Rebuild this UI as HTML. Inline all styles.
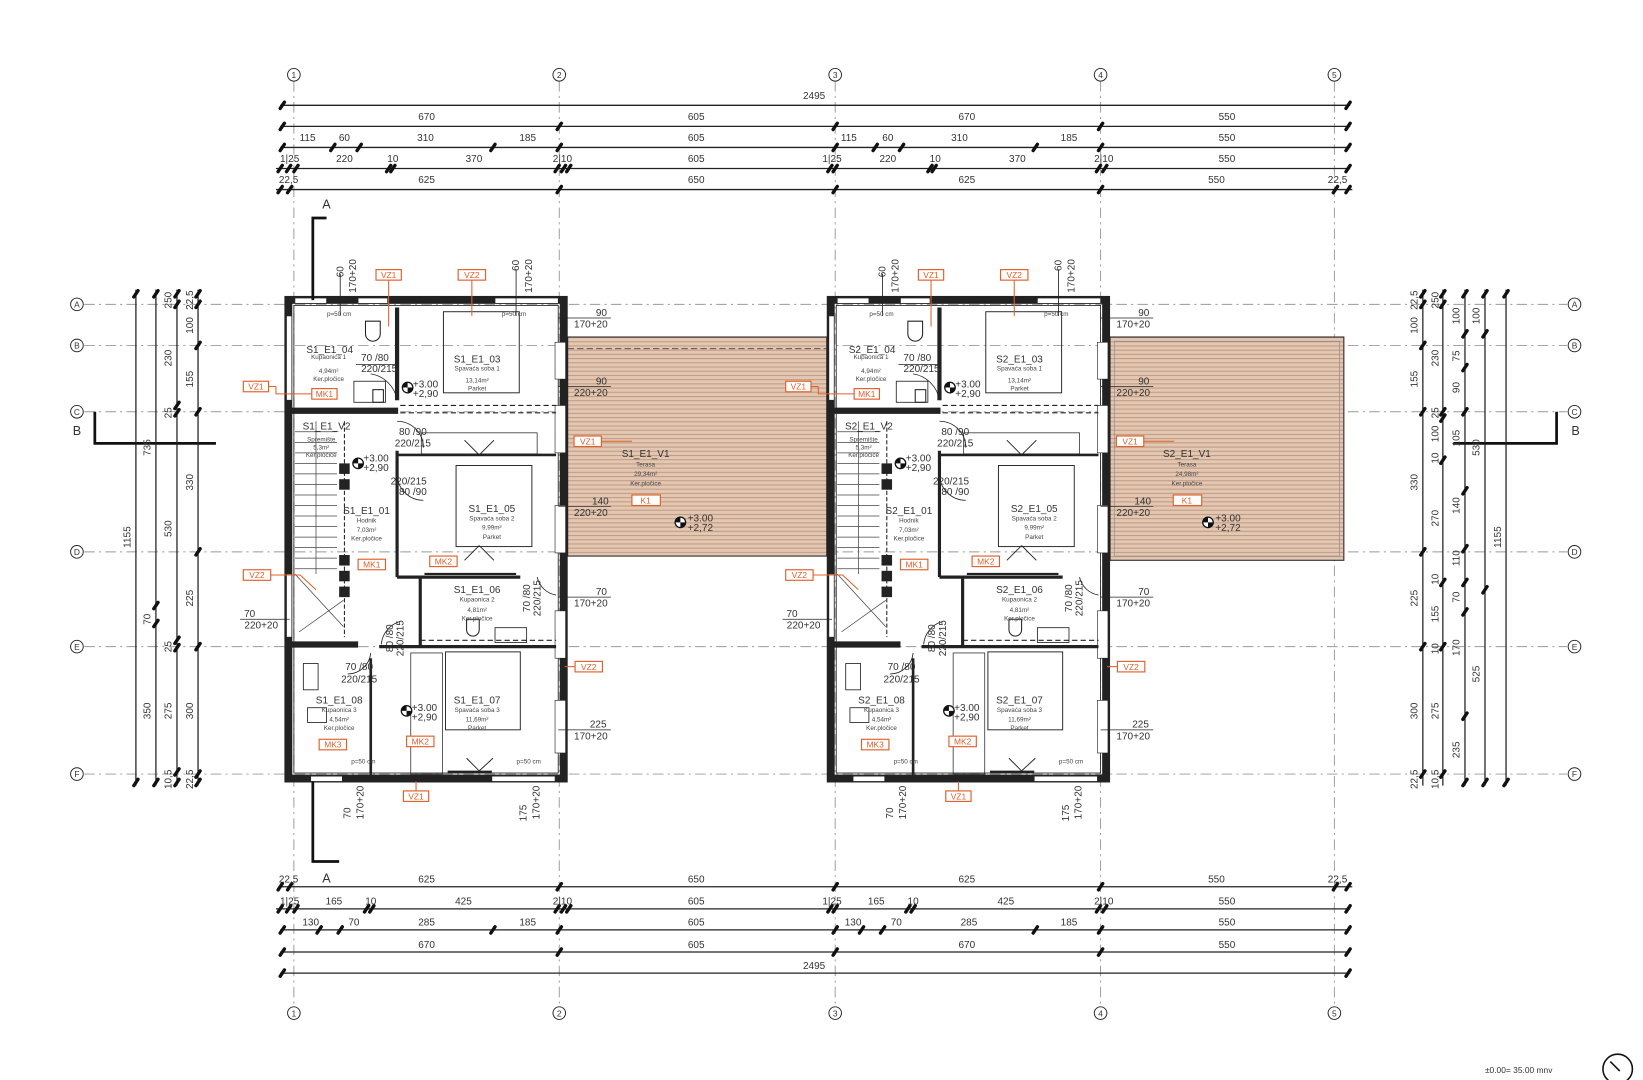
<!DOCTYPE html>
<html><head><meta charset="utf-8"><style>
html,body{margin:0;padding:0;background:#fff;}
svg{display:block;}
text{font-family:"Liberation Sans",sans-serif;fill:#333;}
.d{font-size:9.5px;text-anchor:middle;}
.s{font-size:6px;text-anchor:middle;fill:#444;}
.r{font-size:9.5px;text-anchor:middle;fill:#222;}
.o{font-size:8px;fill:#e0602a;text-anchor:middle;}
.g{stroke:#999;stroke-width:0.9;stroke-dasharray:10 4 2 4;fill:none;}
.dl{stroke:#222;stroke-width:1.2;}
.tk{stroke:#111;stroke-width:3.2;stroke-linecap:round;}
.ob{fill:#fff;stroke:#e0602a;stroke-width:1.1;}
.ol{stroke:#e0602a;stroke-width:1;fill:none;}
.w{stroke:#222;fill:none;}
</style></head><body>
<svg width="1643" height="1080" viewBox="0 0 1560 1025.5" xmlns="http://www.w3.org/2000/svg">
<defs>
<pattern id="hat" width="4" height="4" patternUnits="userSpaceOnUse">
<rect width="4" height="4" fill="#e2c7b3"/><line x1="0" y1="0.5" x2="4" y2="0.5" stroke="#c29a82" stroke-width="1"/>
</pattern>
<marker id="t" viewBox="0 0 10 10" refX="5" refY="5" markerWidth="6" markerHeight="6" orient="auto"><line x1="1" y1="9" x2="9" y2="1" stroke="#111" stroke-width="3"/></marker>
<g id="lev"><circle r="5" fill="#fff" stroke="#111" stroke-width="1.2"/><path d="M-5,0 A5,5 0 0,1 0,-5 L0,0Z M5,0 A5,5 0 0,1 0,5 L0,0Z" fill="#111"/></g>
<g id="bld">
 <!-- outer walls -->
 <rect x="274" y="285" width="261" height="454" fill="none" stroke="#222" stroke-width="7"/>
 <rect x="270.5" y="281.5" width="268" height="461" fill="none" stroke="#222" stroke-width="1"/>
 <rect x="279" y="290" width="251" height="444" fill="none" stroke="#222" stroke-width="0.8"/>
 <!-- top window gaps -->
 <rect x="280" y="283" width="30" height="5" fill="#fff" stroke="#222" stroke-width="0.6"/>
 <rect x="340" y="283" width="28" height="5" fill="#fff" stroke="#222" stroke-width="0.6"/>
 <rect x="470" y="283" width="60" height="5" fill="#fff" stroke="#222" stroke-width="0.6"/>
 <rect x="295" y="737" width="30" height="5" fill="#fff" stroke="#222" stroke-width="0.6"/>
 <rect x="467" y="737" width="60" height="5" fill="#fff" stroke="#222" stroke-width="0.6"/>
 <rect x="527" y="325" width="10" height="35" fill="#fff" stroke="#222" stroke-width="0.6"/>
 <rect x="527" y="385" width="10" height="45" fill="#fff" stroke="#222" stroke-width="0.6"/>
 <rect x="527" y="480" width="10" height="45" fill="#fff" stroke="#222" stroke-width="0.6"/>
 <rect x="527" y="580" width="10" height="45" fill="#fff" stroke="#222" stroke-width="0.6"/>
 <rect x="527" y="665" width="10" height="50" fill="#fff" stroke="#222" stroke-width="0.6"/>
 <rect x="272" y="545" width="5" height="60" fill="#fff" stroke="#222" stroke-width="0.6"/>
 <rect x="272" y="300" width="5" height="80" fill="#fff" stroke="#222" stroke-width="0.6"/>
 <!-- interior walls -->
 <line x1="277" y1="390" x2="378" y2="390" class="w" stroke-width="6"/>
 <line x1="377" y1="292" x2="377" y2="380" class="w" stroke-width="4"/>
 <line x1="377" y1="428" x2="377" y2="548" class="w" stroke-width="3"/>
 <line x1="377" y1="432" x2="528" y2="432" class="w" stroke-width="2.5"/>
 <line x1="380" y1="385" x2="528" y2="385" class="w" stroke-width="1" stroke-dasharray="5 3"/>
 <line x1="380" y1="392" x2="528" y2="392" class="w" stroke-width="1" stroke-dasharray="5 3"/>
 <line x1="377" y1="548" x2="494" y2="548" class="w" stroke-width="3"/>
 <line x1="399" y1="548" x2="399" y2="614" class="w" stroke-width="3"/>
 <line x1="277" y1="612" x2="340" y2="612" class="w" stroke-width="6"/>
 <line x1="360" y1="614" x2="528" y2="614" class="w" stroke-width="3"/>
 <line x1="399" y1="608" x2="528" y2="608" class="w" stroke-width="1" stroke-dasharray="5 3"/>
 <line x1="352" y1="625" x2="352" y2="736" class="w" stroke-width="2.5"/>
 <line x1="327" y1="400" x2="327" y2="605" class="w" stroke-width="1" stroke-dasharray="4 2"/>
 <!-- column blocks -->
 <rect x="322" y="440" width="10" height="10" fill="#222"/>
 <rect x="322" y="455" width="10" height="10" fill="#222"/>
 <rect x="322" y="527" width="10" height="10" fill="#222"/>
 <rect x="322" y="542" width="10" height="10" fill="#222"/>
 <rect x="322" y="557" width="10" height="10" fill="#222"/>
 <rect x="354" y="370" width="10" height="12" fill="none" stroke="#222"/>
 <!-- stairs -->
 <g stroke="#444" stroke-width="0.7">
  <line x1="280" y1="410" x2="320" y2="410"/><line x1="280" y1="420" x2="320" y2="420"/><line x1="280" y1="430" x2="320" y2="430"/><line x1="280" y1="440" x2="320" y2="440"/><line x1="280" y1="450" x2="320" y2="450"/><line x1="280" y1="460" x2="320" y2="460"/><line x1="280" y1="470" x2="320" y2="470"/><line x1="280" y1="480" x2="320" y2="480"/><line x1="280" y1="490" x2="320" y2="490"/><line x1="280" y1="500" x2="320" y2="500"/><line x1="280" y1="510" x2="320" y2="510"/><line x1="280" y1="520" x2="320" y2="520"/><line x1="280" y1="530" x2="320" y2="530"/><line x1="280" y1="540" x2="320" y2="540"/>
  <line x1="300" y1="400" x2="300" y2="545"/><line x1="280" y1="545" x2="326" y2="595"/><line x1="284" y1="600" x2="326" y2="570"/>
 </g>
 <!-- beds -->
 <rect x="421" y="296" width="72" height="77" fill="none" stroke="#222" stroke-width="0.9"/>
 <rect x="433" y="442" width="72" height="77" fill="none" stroke="#222" stroke-width="0.9"/>
 <rect x="423" y="619" width="71" height="74" fill="none" stroke="#222" stroke-width="0.9"/>
 <rect x="400" y="411" width="110" height="20" fill="none" stroke="#222" stroke-width="0.7"/>
 <rect x="390" y="620" width="30" height="115" fill="none" stroke="#222" stroke-width="0.7"/>
 <path d="M441,418 L455,432 L469,418 M455,518 L441,532 M455,518 L469,532 M443,720 L455,732 L468,720" fill="none" stroke="#222" stroke-width="0.9"/>
 <line x1="403" y1="545" x2="490" y2="545" stroke="#222" stroke-width="2"/>
 <line x1="425" y1="733" x2="467" y2="733" stroke="#222" stroke-width="2.5"/>
 <!-- fixtures -->
 <path d="M347,305 h14 v12 a7,7 0 0 1 -14,0z" fill="none" stroke="#222" stroke-width="1"/>
 <path d="M443,588 h12 v10 a6,6 0 0 1 -12,0z" fill="none" stroke="#222" stroke-width="1"/>
 <rect x="470" y="596" width="30" height="14" fill="none" stroke="#222" stroke-width="0.8"/>
 <rect x="336" y="362" width="30" height="20" fill="none" stroke="#222" stroke-width="0.8"/>
 <rect x="288" y="630" width="14" height="25" fill="none" stroke="#222" stroke-width="0.8"/>
 <rect x="292" y="672" width="18" height="14" fill="none" stroke="#222" stroke-width="0.8"/>
 <!-- door arcs -->
 <path d="M377,380 A30,30 0 0 0 352,355 M377,400 A25,25 0 0 1 402,425 M377,450 A25,25 0 0 0 402,475 M352,620 A22,22 0 0 1 330,640 M362,612 A25,25 0 0 1 380,590 M510,548 A22,22 0 0 0 528,565" fill="none" stroke="#222" stroke-width="0.8"/>
 <!-- levels -->
 <use href="#lev" x="387" y="368"/><use href="#lev" x="340" y="440"/><use href="#lev" x="386" y="675"/>
 <text x="404" y="368" class="d" font-size="9">+3.00</text><text x="404" y="377" class="d" font-size="9">+2,90</text>
 <text x="357" y="438" class="d" font-size="9">+3.00</text><text x="357" y="447" class="d" font-size="9">+2,90</text>
 <text x="403" y="675" class="d" font-size="9">+3.00</text><text x="403" y="684" class="d" font-size="9">+2,90</text>
 <!-- room text -->
 <text x="312" y="341" class="s">Kupaonica 1</text><text x="312" y="354" class="s">4,94m²</text><text x="312" y="362" class="s">Ker.pločice</text>
 <text x="453" y="352" class="s">Spavaća soba 1</text><text x="453" y="363" class="s">13,14m²</text><text x="453" y="371" class="s">Parket</text>
 <text x="305" y="419" class="s">Spremište</text><text x="305" y="427" class="s">5,3m²</text><text x="305" y="434" class="s">Ker.pločice</text>
 <text x="348" y="496" class="s">Hodnik</text><text x="348" y="505" class="s">7,03m²</text><text x="348" y="513" class="s">Ker.pločice</text>
 <text x="467" y="494" class="s">Spavaća soba 2</text><text x="467" y="503" class="s">9,99m²</text><text x="467" y="512" class="s">Parket</text>
 <text x="453" y="571" class="s">Kupaonica 2</text><text x="453" y="581" class="s">4,81m²</text><text x="453" y="589" class="s">Ker.pločice</text>
 <text x="322" y="676" class="s">Kupaonica 3</text><text x="322" y="685" class="s">4,54m²</text><text x="322" y="693" class="s">Ker.pločice</text>
 <text x="453" y="676" class="s">Spavaća soba 3</text><text x="453" y="685" class="s">11,69m²</text><text x="453" y="693" class="s">Parket</text>
 <!-- door labels -->
 <text x="356" y="343" class="d">70 /80</text><line x1="338" y1="346" x2="378" y2="346" stroke="#222" stroke-width="0.7"/><text x="360" y="353" class="d">220/215</text>
 <text x="392" y="413" class="d">80 /90</text><text x="392" y="424" class="d">220/215</text>
 <text x="388" y="460" class="d">220/215</text><text x="392" y="470" class="d">80 /90</text>
 <text x="341" y="636" class="d">70 /80</text><text x="341" y="648" class="d">220/215</text>
 <text class="d" transform="translate(373,606) rotate(-90)">80 /80</text><text class="d" transform="translate(383,606) rotate(-90)">220/215</text>
 <text class="d" transform="translate(503,568) rotate(-90)">70 /80</text><text class="d" transform="translate(513,568) rotate(-90)">220/215</text>
 <!-- tiny p=50 notes -->
 <text x="322" y="300" class="s">p=50 cm</text><text x="488" y="300" class="s">p=50 cm</text>
 <text x="345" y="725" class="s">p=50 cm</text><text x="502" y="725" class="s">p=50 cm</text>
 <!-- orange tags -->
 <line x1="369" y1="266" x2="369" y2="310" class="ol"/><rect x="357" y="256" width="24" height="10" class="ob"/><text x="369" y="264" class="o">VZ1</text>
 <line x1="448" y1="266" x2="448" y2="300" class="ol"/><rect x="435" y="256" width="26" height="10" class="ob"/><text x="448" y="264" class="o">VZ2</text>
 <rect x="296" y="369" width="24" height="10" class="ob"/><text x="308" y="377" class="o">MK1</text>
 <rect x="340" y="531" width="26" height="10" class="ob"/><text x="353" y="539" class="o">MK1</text>
 <rect x="408" y="528" width="26" height="10" class="ob"/><text x="421" y="536" class="o">MK2</text>
 <rect x="303" y="702" width="26" height="10" class="ob"/><text x="316" y="710" class="o">MK3</text>
 <rect x="386" y="699" width="26" height="10" class="ob"/><text x="399" y="707" class="o">MK2</text>
 <line x1="395" y1="742" x2="395" y2="751" class="ol"/><rect x="383" y="751" width="24" height="10" class="ob"/><text x="395" y="759" class="o">VZ1</text>
 <line x1="571" y1="419" x2="600" y2="419" class="ol"/><rect x="545" y="414" width="26" height="10" class="ob"/><text x="558" y="422" class="o">VZ1</text>
 <line x1="536" y1="633" x2="546" y2="633" class="ol"/><rect x="546" y="628" width="26" height="10" class="ob"/><text x="559" y="636" class="o">VZ2</text>
 <!-- side labels -->
 <text class="d" transform="translate(326,258) rotate(-90)">60</text><text class="d" transform="translate(338,262) rotate(-90)">170+20</text>
 <line x1="323" y1="260" x2="323" y2="300" stroke="#222" stroke-width="0.8"/>
 <text class="d" transform="translate(493,252) rotate(-90)">60</text><text class="d" transform="translate(505,262) rotate(-90)">170+20</text>
 <line x1="490" y1="256" x2="490" y2="300" stroke="#222" stroke-width="0.8"/>
 <text class="d" transform="translate(333,772) rotate(-90)">70</text><text class="d" transform="translate(345,762) rotate(-90)">170+20</text>
 <text class="d" transform="translate(500,772) rotate(-90)">175</text><text class="d" transform="translate(512,762) rotate(-90)">170+20</text>
 <text x="571" y="300" class="d">90</text><line x1="530" y1="302" x2="580" y2="302" stroke="#222" stroke-width="0.7"/><text x="561" y="311" class="d">170+20</text>
 <text x="571" y="365" class="d">90</text><line x1="530" y1="367" x2="580" y2="367" stroke="#222" stroke-width="0.7"/><text x="561" y="376" class="d">220+20</text>
 <text x="570" y="479" class="d">140</text><line x1="530" y1="481" x2="580" y2="481" stroke="#222" stroke-width="0.7"/><text x="561" y="490" class="d">220+20</text>
 <text x="571" y="565" class="d">70</text><line x1="530" y1="567" x2="580" y2="567" stroke="#222" stroke-width="0.7"/><text x="561" y="576" class="d">170+20</text>
 <text x="568" y="691" class="d">225</text><line x1="530" y1="693" x2="580" y2="693" stroke="#222" stroke-width="0.7"/><text x="561" y="702" class="d">170+20</text>
 <text x="237" y="586" class="d">70</text><line x1="228" y1="588" x2="275" y2="588" stroke="#222" stroke-width="0.7"/><text x="248" y="597" class="d">220+20</text>
 <line x1="255" y1="367" x2="262" y2="367" class="ol"/><polyline points="262,367 262,374 296,374" class="ol"/><rect x="231" y="362" width="24" height="10" class="ob"/><text x="243" y="370" class="o">VZ1</text>
 <polyline points="257,546 285,546 300,560" class="ol"/><rect x="231" y="541" width="26" height="10" class="ob"/><text x="244" y="549" class="o">VZ2</text>
</g>
</defs>

<!-- grid lines -->
<g class="g">
<line x1="80" y1="289" x2="1488" y2="289"/><line x1="80" y1="328" x2="1488" y2="328"/><line x1="80" y1="391" x2="1488" y2="391"/><line x1="80" y1="524" x2="1488" y2="524"/><line x1="80" y1="614" x2="1488" y2="614"/><line x1="80" y1="735" x2="1488" y2="735"/>
<line x1="279" y1="77" x2="279" y2="956"/><line x1="531" y1="77" x2="531" y2="956"/><line x1="793" y1="77" x2="793" y2="956"/><line x1="1045" y1="77" x2="1045" y2="956"/><line x1="1267" y1="77" x2="1267" y2="956"/>
</g>
<g fill="#fff" stroke="#222" stroke-width="0.9">
<circle cx="279" cy="71" r="6"/><circle cx="531" cy="71" r="6"/><circle cx="793" cy="71" r="6"/><circle cx="1045" cy="71" r="6"/><circle cx="1267" cy="71" r="6"/>
<circle cx="279" cy="962" r="6"/><circle cx="531" cy="962" r="6"/><circle cx="793" cy="962" r="6"/><circle cx="1045" cy="962" r="6"/><circle cx="1267" cy="962" r="6"/>
<circle cx="73" cy="289" r="6"/><circle cx="73" cy="328" r="6"/><circle cx="73" cy="391" r="6"/><circle cx="73" cy="524" r="6"/><circle cx="73" cy="614" r="6"/><circle cx="73" cy="735" r="6"/>
<circle cx="1495" cy="289" r="6"/><circle cx="1495" cy="328" r="6"/><circle cx="1495" cy="391" r="6"/><circle cx="1495" cy="524" r="6"/><circle cx="1495" cy="614" r="6"/><circle cx="1495" cy="735" r="6"/>
</g>
<g font-size="8" text-anchor="middle">
<text x="279" y="74">1</text><text x="531" y="74">2</text><text x="793" y="74">3</text><text x="1045" y="74">4</text><text x="1267" y="74">5</text>
<text x="279" y="965">1</text><text x="531" y="965">2</text><text x="793" y="965">3</text><text x="1045" y="965">4</text><text x="1267" y="965">5</text>
<text x="73" y="292">A</text><text x="73" y="331">B</text><text x="73" y="394">C</text><text x="73" y="527">D</text><text x="73" y="617">E</text><text x="73" y="738">F</text>
<text x="1495" y="292">A</text><text x="1495" y="331">B</text><text x="1495" y="394">C</text><text x="1495" y="527">D</text><text x="1495" y="617">E</text><text x="1495" y="738">F</text>
</g>

<!-- terraces -->
<rect x="539" y="320" width="246" height="208" fill="url(#hat)" stroke="#222" stroke-width="1"/>
<line x1="539" y1="331" x2="785" y2="331" stroke="#555" stroke-dasharray="6 3"/>
<rect x="1054" y="320" width="222" height="212" fill="url(#hat)" stroke="#222" stroke-width="1"/>
<rect x="1058" y="324" width="214" height="204" fill="none" stroke="#888" stroke-width="0.6"/>

<use href="#bld"/>
<use href="#bld" x="515"/>

<!-- room ids -->
<g class="r">
<text x="313" y="335">S1_E1_04</text><text x="453" y="344">S1_E1_03</text><text x="310" y="408">S1_E1_V2</text><text x="348" y="488">S1_E1_01</text><text x="467" y="486">S1_E1_05</text><text x="453" y="563">S1_E1_06</text><text x="322" y="668">S1_E1_08</text><text x="453" y="668">S1_E1_07</text>
<text x="828" y="335">S2_E1_04</text><text x="968" y="344">S2_E1_03</text><text x="825" y="408">S2_E1_V2</text><text x="863" y="488">S2_E1_01</text><text x="982" y="486">S2_E1_05</text><text x="968" y="563">S2_E1_06</text><text x="837" y="668">S2_E1_08</text><text x="968" y="668">S2_E1_07</text>
<text x="613" y="434">S1_E1_V1</text><text x="1127" y="434">S2_E1_V1</text>
</g>
<text x="613" y="443" class="s">Terasa</text><text x="613" y="452" class="s">29,34m²</text><text x="613" y="461" class="s">Ker.pločice</text>
<text x="1127" y="443" class="s">Terasa</text><text x="1127" y="452" class="s">24,98m²</text><text x="1127" y="461" class="s">Ker.pločice</text>
<rect x="600" y="470" width="27" height="10" class="ob"/><text x="613" y="478" class="o">K1</text>
<rect x="1114" y="470" width="27" height="10" class="ob"/><text x="1127" y="478" class="o">K1</text>
<use href="#lev" x="646" y="496"/><text x="665" y="495" class="d">+3.00</text><text x="665" y="504" class="d">+2,72</text>
<use href="#lev" x="1147" y="496"/><text x="1166" y="495" class="d">+3.00</text><text x="1166" y="504" class="d">+2,72</text>

<!-- section marks -->
<g stroke="#111" stroke-width="2.6" fill="none">
<polyline points="310,207 297,207 297,285"/><polyline points="297,742 297,818 322,818"/>
<polyline points="90,391 90,421 205,421"/><polyline points="1478,391 1478,421 1380,421"/>
</g>
<text x="310" y="198" font-size="12" text-anchor="middle" fill="#111">A</text>
<text x="310" y="838" font-size="12" text-anchor="middle" fill="#111">A</text>
<text x="73" y="413" font-size="12" text-anchor="middle" fill="#111">B</text>
<text x="1496" y="413" font-size="12" text-anchor="middle" fill="#111">B</text>

<!-- top dims -->
<g class="dl">
<line x1="266" y1="100" x2="1282" y2="100"/><line x1="266" y1="120" x2="1282" y2="120"/><line x1="266" y1="140" x2="1282" y2="140"/><line x1="262" y1="160" x2="1282" y2="160"/><line x1="262" y1="180" x2="1284" y2="180"/>
<line x1="266" y1="842" x2="1284" y2="842"/><line x1="262" y1="863" x2="1282" y2="863"/><line x1="266" y1="883" x2="1282" y2="883"/><line x1="266" y1="904" x2="1282" y2="904"/><line x1="266" y1="924" x2="1282" y2="924"/>
</g>
<g class="tk">
<path d="M266,103 l4,-6 M1278,103 l4,-6"/>
<path d="M266,123 l4,-6 M529,123 l4,-6 M791,123 l4,-6 M1043,123 l4,-6 M1278,123 l4,-6"/>
<path d="M266,143 l4,-6 M314,143 l4,-6 M339,143 l4,-6 M466,143 l4,-6 M529,143 l4,-6 M791,143 l4,-6 M829,143 l4,-6 M854,143 l4,-6 M981,143 l4,-6 M1043,143 l4,-6 M1278,143 l4,-6"/>
<path d="M264,163 l4,-6 M272,163 l4,-6 M279,163 l4,-6 M367,163 l4,-6 M371,163 l4,-6 M527,163 l4,-6 M533,163 l4,-6 M538,163 l4,-6 M786,163 l4,-6 M791,163 l4,-6 M881,163 l4,-6 M885,163 l4,-6 M1041,163 l4,-6 M1047,163 l4,-6 M1278,163 l4,-6"/>
<path d="M264,183 l4,-6 M273,183 l4,-6 M529,183 l4,-6 M791,183 l4,-6 M1043,183 l4,-6 M1266,183 l4,-6 M1278,183 l4,-6"/>
<path d="M264,845 l4,-6 M273,845 l4,-6 M529,845 l4,-6 M791,845 l4,-6 M1043,845 l4,-6 M1266,845 l4,-6 M1278,845 l4,-6"/>
<path d="M264,866 l4,-6 M272,866 l4,-6 M279,866 l4,-6 M346,866 l4,-6 M351,866 l4,-6 M527,866 l4,-6 M533,866 l4,-6 M538,866 l4,-6 M786,866 l4,-6 M791,866 l4,-6 M860,866 l4,-6 M865,866 l4,-6 M1041,866 l4,-6 M1047,866 l4,-6 M1278,866 l4,-6"/>
<path d="M266,886 l4,-6 M301,886 l4,-6 M321,886 l4,-6 M466,886 l4,-6 M529,886 l4,-6 M791,886 l4,-6 M816,886 l4,-6 M836,886 l4,-6 M981,886 l4,-6 M1043,886 l4,-6 M1278,886 l4,-6"/>
<path d="M266,907 l4,-6 M529,907 l4,-6 M791,907 l4,-6 M1043,907 l4,-6 M1278,907 l4,-6"/>
<path d="M266,927 l4,-6 M1278,927 l4,-6"/>
</g>
<g class="d">
<text x="773" y="94">2495</text>
<text x="405" y="114">670</text><text x="661" y="114">605</text><text x="918" y="114">670</text><text x="1165" y="114">550</text>
<text x="292" y="134">115</text><text x="327" y="134">60</text><text x="404" y="134">310</text><text x="501" y="134">185</text><text x="661" y="134">605</text><text x="806" y="134">115</text><text x="843" y="134">60</text><text x="911" y="134">310</text><text x="1015" y="134">185</text><text x="1165" y="134">550</text>
<text x="275" y="154">1|25</text><text x="327" y="154">220</text><text x="373" y="154">10</text><text x="450" y="154">370</text><text x="534" y="154">2|10</text><text x="661" y="154">605</text><text x="790" y="154">1|25</text><text x="843" y="154">220</text><text x="888" y="154">10</text><text x="966" y="154">370</text><text x="1048" y="154">2|10</text><text x="1165" y="154">550</text>
<text x="274" y="174">22,5</text><text x="405" y="174">625</text><text x="661" y="174">650</text><text x="918" y="174">625</text><text x="1155" y="174">550</text><text x="1270" y="174">22,5</text>
<text x="274" y="838">22,5</text><text x="405" y="838">625</text><text x="661" y="838">650</text><text x="918" y="838">625</text><text x="1155" y="838">550</text><text x="1270" y="838">22,5</text>
<text x="275" y="859">1|25</text><text x="317" y="859">165</text><text x="352" y="859">10</text><text x="440" y="859">425</text><text x="534" y="859">2|10</text><text x="661" y="859">605</text><text x="790" y="859">1|25</text><text x="832" y="859">165</text><text x="867" y="859">10</text><text x="955" y="859">425</text><text x="1048" y="859">2|10</text><text x="1165" y="859">550</text>
<text x="295" y="879">130</text><text x="336" y="879">70</text><text x="405" y="879">285</text><text x="501" y="879">185</text><text x="661" y="879">605</text><text x="810" y="879">130</text><text x="851" y="879">70</text><text x="920" y="879">285</text><text x="1015" y="879">185</text><text x="1165" y="879">550</text>
<text x="405" y="900">670</text><text x="661" y="900">605</text><text x="918" y="900">670</text><text x="1165" y="900">550</text>
<text x="773" y="920">2495</text>
</g>

<!-- left vertical dims -->
<g class="dl">
<line x1="129" y1="275" x2="129" y2="746"/><line x1="148" y1="275" x2="148" y2="746"/><line x1="168" y1="275" x2="168" y2="746"/><line x1="188" y1="275" x2="188" y2="746"/>
<line x1="1351" y1="275" x2="1351" y2="746"/><line x1="1370" y1="275" x2="1370" y2="746"/><line x1="1391" y1="275" x2="1391" y2="746"/><line x1="1410" y1="275" x2="1410" y2="746"/><line x1="1430" y1="275" x2="1430" y2="746"/>
</g>
<g class="tk">
<path d="M127,282 l4,-6 M127,746 l4,-6 M146,282 l4,-6 M146,746 l4,-6 M146,578 l4,-6 M146,595 l4,-6 M166,282 l4,-6 M166,292 l4,-6 M166,388 l4,-6 M166,395 l4,-6 M166,611 l4,-6 M166,618 l4,-6 M166,736 l4,-6 M166,746 l4,-6 M186,282 l4,-6 M186,292 l4,-6 M186,331 l4,-6 M186,394 l4,-6 M186,527 l4,-6 M186,617 l4,-6 M186,738 l4,-6 M186,746 l4,-6"/>
<path d="M1349,282 l4,-6 M1349,292 l4,-6 M1349,331 l4,-6 M1349,394 l4,-6 M1349,527 l4,-6 M1349,617 l4,-6 M1349,738 l4,-6 M1368,282 l4,-6 M1368,292 l4,-6 M1368,394 l4,-6 M1368,400 l4,-6 M1368,440 l4,-6 M1368,556 l4,-6 M1368,617 l4,-6 M1368,738 l4,-6 M1389,282 l4,-6 M1389,320 l4,-6 M1389,352 l4,-6 M1389,394 l4,-6 M1389,469 l4,-6 M1389,524 l4,-6 M1389,556 l4,-6 M1389,584 l4,-6 M1389,683 l4,-6 M1389,746 l4,-6 M1408,282 l4,-6 M1408,320 l4,-6 M1408,563 l4,-6 M1408,746 l4,-6 M1428,282 l4,-6 M1428,746 l4,-6"/>
</g>
<g class="d">
<text transform="translate(124,510) rotate(-90)">1155</text>
<text transform="translate(143,425) rotate(-90)">735</text><text transform="translate(143,588) rotate(-90)">70</text><text transform="translate(143,675) rotate(-90)">350</text>
<text transform="translate(163,285) rotate(-90)">250</text><text transform="translate(163,340) rotate(-90)">230</text><text transform="translate(163,392) rotate(-90)">25</text><text transform="translate(163,502) rotate(-90)">530</text><text transform="translate(163,614) rotate(-90)">25</text><text transform="translate(163,675) rotate(-90)">275</text><text transform="translate(163,740) rotate(-90)">10,5</text>
<text transform="translate(183,285) rotate(-90)">22,5</text><text transform="translate(183,309) rotate(-90)">100</text><text transform="translate(183,360) rotate(-90)">155</text><text transform="translate(183,458) rotate(-90)">330</text><text transform="translate(183,568) rotate(-90)">225</text><text transform="translate(183,675) rotate(-90)">300</text><text transform="translate(183,740) rotate(-90)">22,5</text>
<text transform="translate(1346,285) rotate(-90)">22,5</text><text transform="translate(1346,309) rotate(-90)">100</text><text transform="translate(1346,360) rotate(-90)">155</text><text transform="translate(1346,458) rotate(-90)">330</text><text transform="translate(1346,568) rotate(-90)">225</text><text transform="translate(1346,675) rotate(-90)">300</text><text transform="translate(1346,740) rotate(-90)">22,5</text>
<text transform="translate(1366,285) rotate(-90)">250</text><text transform="translate(1366,340) rotate(-90)">230</text><text transform="translate(1366,392) rotate(-90)">25</text><text transform="translate(1366,412) rotate(-90)">100</text><text transform="translate(1366,435) rotate(-90)">10</text><text transform="translate(1366,492) rotate(-90)">270</text><text transform="translate(1366,550) rotate(-90)">10</text><text transform="translate(1366,583) rotate(-90)">155</text><text transform="translate(1366,616) rotate(-90)">10</text><text transform="translate(1366,675) rotate(-90)">275</text><text transform="translate(1366,740) rotate(-90)">10,5</text>
<text transform="translate(1386,300) rotate(-90)">100</text><text transform="translate(1386,338) rotate(-90)">75</text><text transform="translate(1386,368) rotate(-90)">90</text><text transform="translate(1386,416) rotate(-90)">105</text><text transform="translate(1386,480) rotate(-90)">140</text><text transform="translate(1386,530) rotate(-90)">110</text><text transform="translate(1386,567) rotate(-90)">70</text><text transform="translate(1386,615) rotate(-90)">170</text><text transform="translate(1386,712) rotate(-90)">235</text>
<text transform="translate(1405,300) rotate(-90)">100</text><text transform="translate(1405,425) rotate(-90)">530</text><text transform="translate(1405,640) rotate(-90)">525</text>
<text transform="translate(1425,510) rotate(-90)">1155</text>
</g>

<!-- footer -->
<text x="1442" y="1019" font-size="8" text-anchor="middle" fill="#222">±0.00= 35.00 mnv</text>
<circle cx="1536" cy="1015" r="14" fill="none" stroke="#111" stroke-width="1.5"/>
<line x1="1529" y1="1008" x2="1538" y2="1017" stroke="#111" stroke-width="1.5"/>
</svg>
</body></html>
